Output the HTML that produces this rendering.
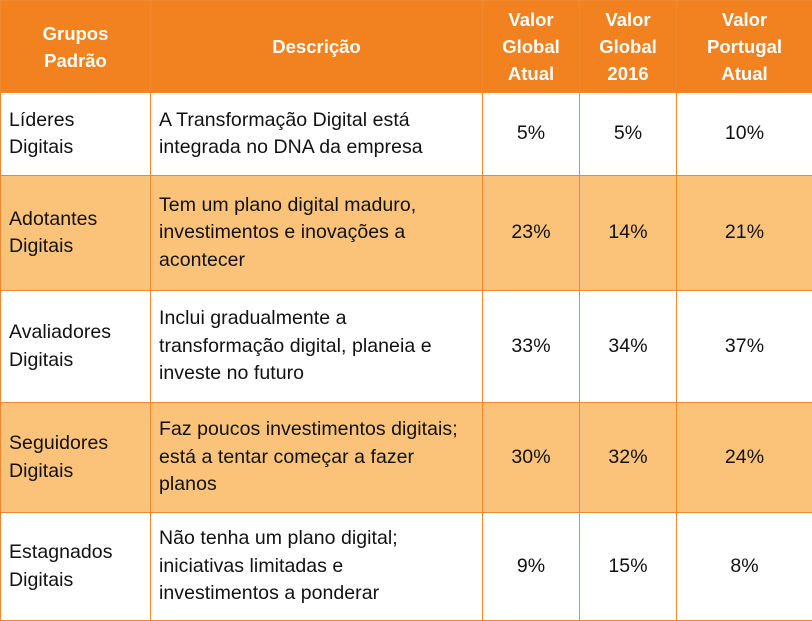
<!DOCTYPE html>
<html><head><meta charset="utf-8"><style>
body{margin:0;background:#fff;}
table{border-collapse:collapse;width:812px;height:620px;font-family:"Liberation Sans",sans-serif;font-size:19.5px;letter-spacing:0.05px;color:#111;table-layout:fixed;position:absolute;left:0;top:0}
td,th{border:1px solid #ef8a2e;padding:0 8px;line-height:27.5px;vertical-align:middle;white-space:nowrap}
th{background:#f1821f;color:#fff;font-weight:bold;font-size:18.5px;letter-spacing:0;line-height:27px;text-align:center}
td.c{text-align:center}
tr.o td{background:#fbc27a}
</style></head><body>
<table>
<colgroup><col style="width:150px"><col style="width:332px"><col style="width:97px"><col style="width:97px"><col style="width:136px"></colgroup>
<tr style="height:92px"><th>Grupos<br>Padrão</th><th>Descrição</th><th>Valor<br>Global<br>Atual</th><th>Valor<br>Global<br>2016</th><th>Valor<br>Portugal<br>Atual</th></tr>
<tr style="height:83px"><td>Líderes<br>Digitais</td><td>A Transformação Digital está<br>integrada no DNA da empresa</td><td class="c">5%</td><td class="c">5%</td><td class="c">10%</td></tr>
<tr class="o" style="height:115px"><td>Adotantes<br>Digitais</td><td>Tem um plano digital maduro,<br>investimentos e inovações a<br>acontecer</td><td class="c">23%</td><td class="c">14%</td><td class="c">21%</td></tr>
<tr style="height:112px"><td>Avaliadores<br>Digitais</td><td>Inclui gradualmente a<br>transformação digital, planeia e<br>investe no futuro</td><td class="c">33%</td><td class="c">34%</td><td class="c">37%</td></tr>
<tr class="o" style="height:110px"><td>Seguidores<br>Digitais</td><td>Faz poucos investimentos digitais;<br>está a tentar começar a fazer<br>planos</td><td class="c">30%</td><td class="c">32%</td><td class="c">24%</td></tr>
<tr style="height:108px"><td>Estagnados<br>Digitais</td><td>Não tenha um plano digital;<br>iniciativas limitadas e<br>investimentos a ponderar</td><td class="c">9%</td><td class="c">15%</td><td class="c">8%</td></tr>
</table>
</body></html>
